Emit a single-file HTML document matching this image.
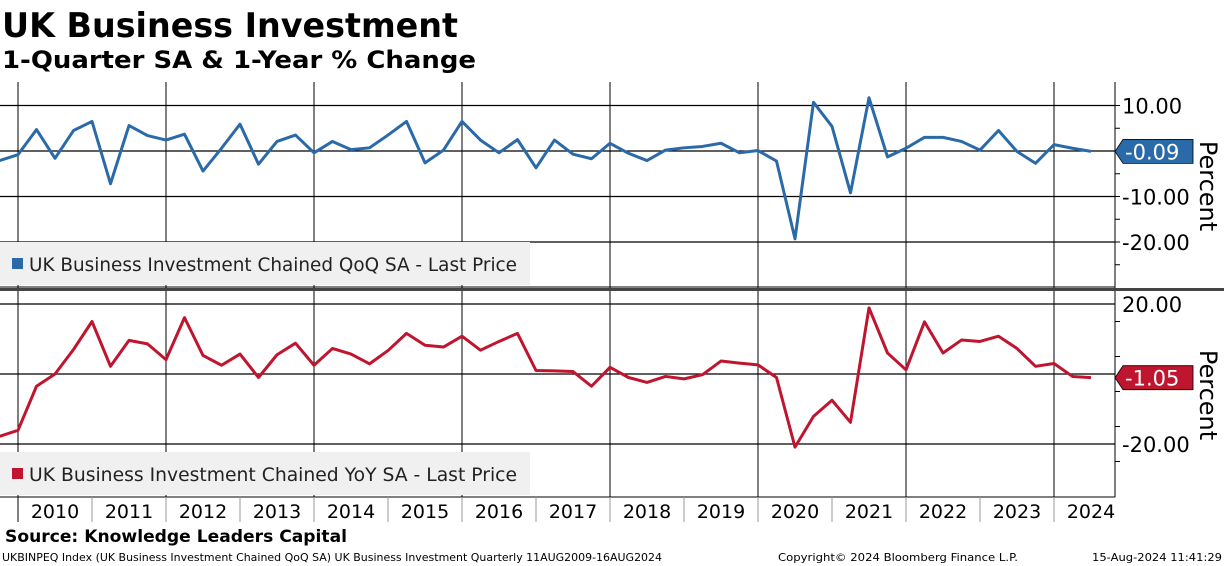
<!DOCTYPE html>
<html><head><meta charset="utf-8"><style>
html,body{margin:0;padding:0;background:#fff;width:1224px;height:566px;overflow:hidden}
svg{display:block;font-family:"DejaVu Sans","Liberation Sans",sans-serif}
</style></head><body>
<svg id="chart" width="1224" height="566" viewBox="0 0 1224 566">
<text x="2" y="37" font-size="34" font-weight="bold" textLength="456" lengthAdjust="spacingAndGlyphs">UK Business Investment</text>
<text x="2" y="68" font-size="24" font-weight="bold" textLength="474" lengthAdjust="spacingAndGlyphs">1-Quarter SA &amp; 1-Year % Change</text>
<g id="grid"></g>
<g id="series"></g>
<g id="axes"></g>
<rect x="0" y="288" width="1224" height="3" fill="#444"/>
<text x="5" y="542" font-size="17" font-weight="bold" textLength="342" lengthAdjust="spacingAndGlyphs">Source: Knowledge Leaders Capital</text>
<text x="2" y="561" font-size="11" textLength="660" lengthAdjust="spacingAndGlyphs">UKBINPEQ Index (UK Business Investment Chained QoQ SA) UK Business Investment  Quarterly 11AUG2009-16AUG2024</text>
<text x="778" y="561" font-size="11" textLength="240" lengthAdjust="spacingAndGlyphs">Copyright© 2024 Bloomberg Finance L.P.</text>
<text x="1092" y="561" font-size="11" textLength="130" lengthAdjust="spacingAndGlyphs">15-Aug-2024 11:41:29</text>
</svg>
<script>
const years=["2010","2011","2012","2013","2014","2015","2016","2017","2018","2019","2020","2021","2022","2023","2024"];
const qoq=[-2.1,-0.8,4.7,-1.6,4.5,6.5,-7.2,5.6,3.4,2.4,3.7,-4.4,0.6,5.9,-2.9,2.1,3.5,-0.4,2.1,0.3,0.7,3.5,6.5,-2.6,0.2,6.5,2.4,-0.4,2.5,-3.7,2.4,-0.7,-1.7,1.7,-0.5,-2.1,0.2,0.7,1.0,1.7,-0.4,0.1,-2.2,-19.3,10.7,5.4,-9.2,11.7,-1.3,0.6,3.0,3.0,2.1,0.2,4.5,-0.1,-2.7,1.4,0.6,-0.09];
const yoy=[-17.8,-16.1,-3.5,0,7.0,15.0,2.2,9.6,8.6,4.1,16.1,5.3,2.5,5.7,-1.0,5.5,8.8,2.5,7.3,5.7,2.9,6.7,11.6,8.2,7.7,10.8,6.8,9.3,11.6,1.0,0.9,0.7,-3.5,1.9,-1.0,-2.4,-0.7,-1.4,-0.2,3.7,3.1,2.6,-1.0,-20.9,-12.1,-7.5,-13.8,18.9,6.0,1.2,14.9,6.0,9.7,9.3,10.8,7.3,2.2,3.0,-0.7,-1.05];
const topTicks=[10,0,-10,-20];
const topLabels=["10.00","","-10.00","-20.00"];
const botTicks=[20,0,-20];
const botLabels=["20.00","","-20.00"];
const NS="http://www.w3.org/2000/svg";
const X0=18,QW=18.5,YW=74,RIGHT=1115;
const xq=i=>X0+(i-1)*QW;
const yTop=v=>151-v*4.55;
const yBot=v=>374-v*3.5;
function mk(tag,attrs,parent){const e=document.createElementNS(NS,tag);for(const k in attrs)e.setAttribute(k,attrs[k]);parent.appendChild(e);return e;}
const grid=document.getElementById('grid'),ser=document.getElementById('series'),ax=document.getElementById('axes');
// panel boxes
let l;
l=mk('line',{x1:0,y1:82,x2:RIGHT,y2:82,stroke:'#fff'},grid);
// vertical gridlines every 2 years
for(let y=0;y<=years.length;y+=2){const x=X0+y*YW;
 l=mk('line',{x1:x,y1:82,x2:x,y2:497,stroke:'#000','stroke-width':1},grid);
 
 }
// top horizontal gridlines
topTicks.forEach(v=>{l=mk('line',{x1:0,y1:yTop(v),x2:RIGHT,y2:yTop(v),stroke:'#000','stroke-width':1.2},grid);
 
 });
l=mk('line',{x1:0,y1:287,x2:RIGHT,y2:287,stroke:'#000'},grid);
botTicks.forEach(v=>{l=mk('line',{x1:0,y1:yBot(v),x2:RIGHT,y2:yBot(v),stroke:'#000','stroke-width':1.2},grid);
 
 });
// legends
function legend(y,color,text,name){const g=mk('g',{},grid);
 
 
 mk('rect',{x:0,y:y,width:530,height:43,fill:'#f0f0f0'},g);
 mk('rect',{x:12,y:y+16,width:11,height:11,fill:color},g);
 const t=mk('text',{x:29,y:y+29,'font-size':19,fill:'#222',textLength:488,lengthAdjust:'spacingAndGlyphs'},g);t.textContent=text;}
legend(242,'#2a6aa8','UK Business Investment Chained QoQ SA - Last Price','legend-qoq');
legend(452,'#c0152f','UK Business Investment Chained YoY SA - Last Price','legend-yoy');
// series
const p1=mk('polyline',{points:qoq.map((v,i)=>xq(i)+','+yTop(v)).join(' '),fill:'none',stroke:'#2a6aa8','stroke-width':3,'stroke-linejoin':'round'},ser);


const p2=mk('polyline',{points:yoy.map((v,i)=>xq(i)+','+yBot(v)).join(' '),fill:'none',stroke:'#c0152f','stroke-width':3,'stroke-linejoin':'round'},ser);


// right axes
mk('line',{x1:RIGHT,y1:82,x2:RIGHT,y2:497,stroke:'#000'},ax);
for(let v=15;v>=-30;v-=5){const y=yTop(v);if(y<84||y>286)continue;mk('line',{x1:RIGHT,y1:y,x2:RIGHT+5,y2:y,stroke:'#000'},ax);}
for(let v=25;v>=-30;v-=10){const y=yBot(v);if(y<294||y>495)continue;mk('line',{x1:RIGHT,y1:y,x2:RIGHT+5,y2:y,stroke:'#000'},ax);}
topTicks.forEach((v,i)=>{if(!topLabels[i])return;const t=mk('text',{x:1122,y:yTop(v)+8,'font-size':21},ax);t.textContent=topLabels[i];
 
 });
botTicks.forEach((v,i)=>{if(!botLabels[i])return;const t=mk('text',{x:1122,y:yBot(v)+8,'font-size':21},ax);t.textContent=botLabels[i];
 
 });
function tag(y,color,txt,name){const g=mk('g',{},ax);
 
 
 mk('polygon',{points:`${RIGHT},${y} ${RIGHT+8},${y-12} 1193,${y-12} 1193,${y+12} ${RIGHT+8},${y+12}`,fill:color,stroke:'#000','stroke-width':0.8},g);
 const t=mk('text',{x:1125,y:y+8,'font-size':21,fill:'#fff'},g);t.textContent=txt;}
tag(yTop(qoq[qoq.length-1]),'#2a6aa8',qoq[qoq.length-1].toFixed(2),'last-value-qoq');
tag(yBot(yoy[yoy.length-1]),'#c0152f',yoy[yoy.length-1].toFixed(2),'last-value-yoy');
function ptitle(cy,name){const t=mk('text',{x:0,y:0,'font-size':24,transform:`translate(1200,${cy}) rotate(90)`,'text-anchor':'middle'},ax);t.textContent='Percent';
 
 }
ptitle(186,'top-y-axis-title');ptitle(395,'bottom-y-axis-title');
// x axis band
mk('line',{x1:0,y1:497,x2:RIGHT,y2:497,stroke:'#000'},ax);
years.forEach((yr,i)=>{const x=X0+i*YW;
 if(i>0){mk('line',{x1:x,y1:497,x2:x,y2:522,stroke:'#999'},ax);}
 const t=mk('text',{x:x+YW/2,y:518,'font-size':19,'text-anchor':'middle'},ax);t.textContent=yr;
 
 });
mk('line',{x1:X0,y1:497,x2:X0,y2:522,stroke:'#000'},ax);
</script>
</body></html>
